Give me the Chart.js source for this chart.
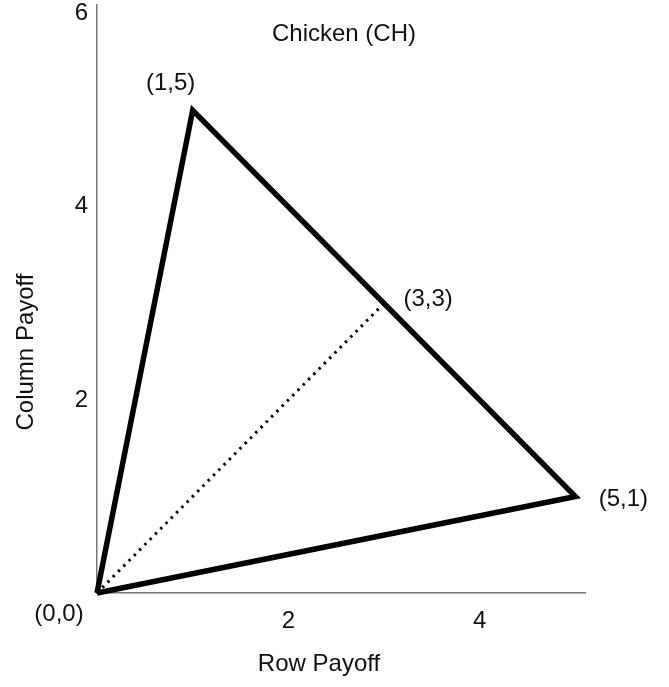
<!DOCTYPE html>
<html>
<head>
<meta charset="utf-8">
<script src="https://cdn.jsdelivr.net/npm/chart.js@4/dist/chart.umd.min.js"></script>
<style>
  html, body { margin: 0; padding: 0; background: #fff; }
  #wrap { width: 669px; height: 687px; }
</style>
</head>
<body>
<div id="wrap"><canvas id="chart"></canvas></div>
<script>
// payoff points of the game
const vertexX = [0, 1, 5, 0];
const vertexY = [0, 5, 1, 0];
const dotX = [0, 3];
const dotY = [0, 3];
const pointLabels = ['(0,0)', '(1,5)', '(5,1)', '(3,3)'];
const labelX = [0, 1, 5, 3];
const labelY = [0, 5, 1, 3];
const xTicks = [2, 4];
const yTicks = [2, 4, 6];

const font = '"Liberation Sans", Arial, sans-serif';
// label offsets in px (same order as pointLabels)
const offsets = [[-38, 21], [-22, -27], [48, 3], [44, -4]];

const labelPlugin = {
    id: 'pointText',
    afterDatasetsDraw(chart) {
        const ctx = chart.ctx;
        const xs = chart.scales.x, ys = chart.scales.y;
        ctx.save();
        ctx.fillStyle = '#111';
        ctx.font = '24px ' + font;
        ctx.textAlign = 'center';
        ctx.textBaseline = 'middle';
        pointLabels.forEach((t, i) => {
            const px = xs.getPixelForValue(labelX[i]) + offsets[i][0];
            const py = ys.getPixelForValue(labelY[i]) + offsets[i][1];
            ctx.fillText(t, px, py);
        });
        ctx.fillText('Chicken (CH)', 344, 34);
        ctx.fillText('Row Payoff', 319, 664);
        ctx.translate(26, 352);
        ctx.rotate(-Math.PI / 2);
        ctx.fillText('Column Payoff', 0, 0);
        ctx.restore();
    }
};

new Chart(document.getElementById('chart'), {
    type: 'scatter',
    data: {
        datasets: [
            {
                data: vertexX.map((x, i) => ({ x: x, y: vertexY[i] })),
                showLine: true,
                borderColor: '#000',
                borderWidth: 5.5,
                pointRadius: 0,
                borderJoinStyle: 'miter',
                clip: false
            },
            {
                data: dotX.map((x, i) => ({ x: x, y: dotY[i] })),
                showLine: true,
                borderColor: '#000',
                borderWidth: 3,
                borderDash: [2.5, 5],
                pointRadius: 0,
                clip: false
            }
        ]
    },
    plugins: [labelPlugin],
    options: {
        responsive: true,
        maintainAspectRatio: false,
        animation: false,
        layout: { padding: { top: 5, right: 84, left: 0, bottom: 0 } },
        plugins: { legend: { display: false }, tooltip: { enabled: false } },
        scales: {
            x: {
                type: 'linear',
                min: 0,
                max: 5.1,
                afterBuildTicks: s => { s.ticks = xTicks.map(v => ({ value: v })); },
                afterFit: s => { s.height = 94; s.paddingLeft = 0; s.paddingRight = 0; },
                grid: { display: false, drawTicks: false },
                border: { display: true, color: '#777', width: 1.5 },
                ticks: { color: '#111', font: { family: font, size: 24 }, padding: 14 }
            },
            y: {
                type: 'linear',
                min: 0,
                max: 6.09,
                afterBuildTicks: s => { s.ticks = yTicks.map(v => ({ value: v })); },
                afterFit: s => { s.width = 97; s.paddingTop = 0; s.paddingBottom = 0; },
                grid: { display: false, drawTicks: false },
                border: { display: true, color: '#777', width: 1.5 },
                ticks: { color: '#111', font: { family: font, size: 24 }, padding: 9 }
            }
        }
    }
});
</script>
</body>
</html>
